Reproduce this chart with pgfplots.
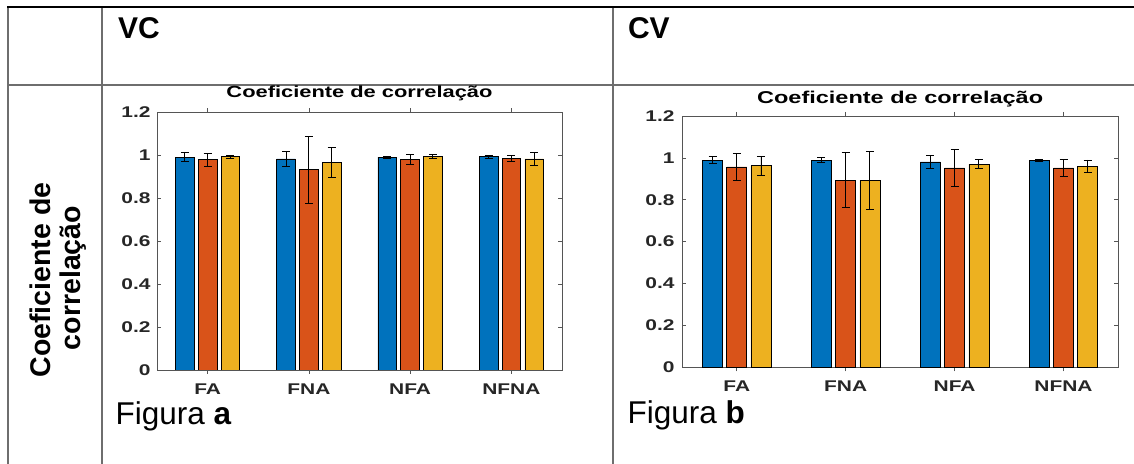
\documentclass[border=0pt]{standalone}
\usepackage{fontspec}
\setmainfont{Liberation Sans}
\newfontfamily\mlfont[FakeStretch=1.35]{Liberation Sans}
\usepackage{graphicx}
\usepackage{pgfplots}
\pgfplotsset{compat=1.18}
\definecolor{mblue}{RGB}{0,114,189}
\definecolor{morange}{RGB}{217,83,25}
\definecolor{myellow}{RGB}{237,177,32}
\definecolor{axgray}{RGB}{85,85,85}
\definecolor{tablegray}{RGB}{110,110,110}

\pgfplotsset{mlbar/.style={
  scale only axis, xmin=0.5, xmax=4.5, ymin=0, ymax=1.2,
  xtick={1,2,3,4}, xticklabels={FA,FNA,NFA,NFNA},
  ytick={0,0.2,0.4,0.6,0.8,1,1.2},
  tick align=inside, major tick length=4bp,
  axis line style={axgray, line width=0.7bp},
  tick style={axgray, line width=0.7bp},
  /pgf/number format/assume math mode=true,
  yticklabel style={font=\mlfont\bfseries\fontsize{15.5bp}{15.5bp}\selectfont, text=black!85},
  xticklabel style={font=\mlfont\bfseries\fontsize{15.5bp}{15.5bp}\selectfont, text=black!85},
  ybar,
  every axis plot/.append style={draw=black, line width=0.6bp,
    error bars/y dir=both, error bars/y explicit,
    error bars/error bar style={black, line width=0.9bp},
    error bars/error mark options={black, line width=0.9bp, mark size=4bp, rotate=90}},
  title style={at={(0.5,1)}, anchor=base, inner sep=0pt},
}}

\begin{document}
\begin{tikzpicture}
\useasboundingbox (0,0) rectangle (1134bp,464bp);
% table frame
\draw[tablegray, line width=2bp] (8.3bp,0) -- (8.3bp,457bp);
\draw[tablegray, line width=2bp] (101.7bp,0) -- (101.7bp,457bp);
\draw[tablegray, line width=2bp] (612.7bp,0) -- (612.7bp,457bp);
\draw[tablegray, line width=2bp] (8.3bp,378.7bp) -- (1134bp,378.7bp);
\draw[black, line width=2.6bp] (7bp,457bp) -- (1134bp,457bp);

% header texts
\node[anchor=base west, inner sep=0pt, font=\bfseries\fontsize{30bp}{30bp}\selectfont] at (118bp,425.7bp) {VC};
\node[anchor=base west, inner sep=0pt, font=\bfseries\fontsize{30bp}{30bp}\selectfont] at (627.8bp,425.7bp) {CV};
\node[anchor=base, rotate=90, inner sep=0pt, font=\bfseries\fontsize{28.5bp}{30bp}\selectfont] at (50.5bp,184bp) {Coeficiente de};
\node[anchor=base, rotate=90, inner sep=0pt, font=\bfseries\fontsize{28.5bp}{30bp}\selectfont] at (80.7bp,186bp) {correlação};
\node[anchor=base west, inner sep=0pt, font=\fontsize{31.5bp}{32bp}\selectfont] at (115.5bp,39.7bp) {Figura \textbf{a}};
\node[anchor=base west, inner sep=0pt, font=\fontsize{31.5bp}{32bp}\selectfont] at (627.5bp,40bp) {Figura \textbf{b}};

% chart a
\begin{axis}[mlbar, at={(157bp,94bp)}, anchor=south west,
  width=405bp, height=257.7bp, bar width=18.7bp,
  title={\resizebox{266bp}{11.7bp}{\bfseries Coeficiente de correlação}},
  title style={yshift=8.9bp},
  yticklabel style={xshift=-2.9bp}, xticklabel style={yshift=-6.7bp}]
\addplot[fill=mblue, bar shift=-22.8bp] coordinates {
 (1,0.991) +- (0,0.021) (2,0.983) +- (0,0.033) (3,0.991) +- (0,0.005) (4,0.994) +- (0,0.007)};
\addplot[fill=morange, bar shift=0bp] coordinates {
 (1,0.980) +- (0,0.030) (2,0.933) +- (0,0.156) (3,0.980) +- (0,0.022) (4,0.986) +- (0,0.015)};
\addplot[fill=myellow, bar shift=22.8bp] coordinates {
 (1,0.994) +- (0,0.007) (2,0.966) +- (0,0.068) (3,0.994) +- (0,0.010) (4,0.983) +- (0,0.032)};
\end{axis}

% chart b
\begin{axis}[mlbar, at={(682.3bp,96.7bp)}, anchor=south west,
  width=435.7bp, height=251.3bp, bar width=20bp,
  title={\resizebox{286bp}{12.4bp}{\bfseries Coeficiente de correlação}},
  title style={yshift=6.3bp},
  yticklabel style={xshift=-4.2bp}, xticklabel style={yshift=-6bp}]
\addplot[fill=mblue, bar shift=-24.2bp] coordinates {
 (1,0.989) +- (0,0.016) (2,0.989) +- (0,0.013) (3,0.981) +- (0,0.030) (4,0.987) +- (0,0.005)};
\addplot[fill=morange, bar shift=0bp] coordinates {
 (1,0.957) +- (0,0.064) (2,0.893) +- (0,0.132) (3,0.952) +- (0,0.089) (4,0.952) +- (0,0.039)};
\addplot[fill=myellow, bar shift=24.2bp] coordinates {
 (1,0.963) +- (0,0.045) (2,0.893) +- (0,0.138) (3,0.970) +- (0,0.022) (4,0.960) +- (0,0.030)};
\end{axis}
\end{tikzpicture}
\end{document}
